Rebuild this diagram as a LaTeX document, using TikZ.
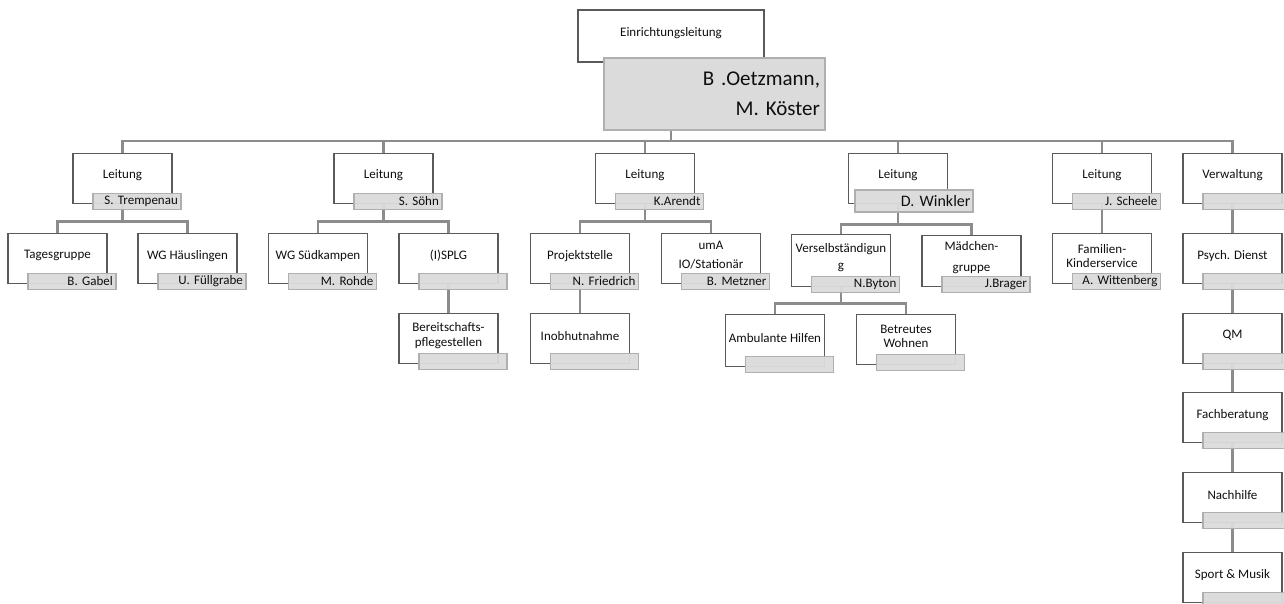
\documentclass[tikz,border=0pt]{standalone}
\usepackage{fontspec}
\setmainfont{Carlito}
\usetikzlibrary{calc,backgrounds}
\definecolor{boxc}{RGB}{90,90,90}
\definecolor{connc}{RGB}{140,140,140}
\definecolor{lfill}{RGB}{219,219,219}
\definecolor{lline}{RGB}{175,175,175}
\definecolor{txtc}{RGB}{15,15,15}
\newcommand\orgbox[6][]{%
  \node[wbox,anchor=north,#1] (#2) at (#3,#4) {};
  \node[wtext] (#2t) at ($(#2.center)+(0,-3)$) {#5};
  \node[lbox] (#2l) at ($(#2.south east)+(9,6)$) {#6};}
\begin{document}
\begin{tikzpicture}[x=0.75pt,y=-0.75pt,
  wbox/.style={draw=boxc,fill=white,line width=0.9pt,minimum width=74.25pt,
    minimum height=37.5pt,inner sep=0pt},
  wtext/.style={inner sep=0pt,align=center,
    font=\fontsize{9.75}{10.5}\selectfont,text=txtc},
  lbox/.style={draw=lline,fill=lfill,fill opacity=0.95,text opacity=1,
    line width=1.1pt,minimum width=66pt,minimum height=12pt,text width=61.5pt,
    inner xsep=2.25pt,inner ysep=0pt,align=right,
    font=\fontsize{9.75}{10.5}\selectfont,text=txtc,anchor=south east},
  conn/.style={draw=connc,line width=2.2pt,line join=miter},
]
\useasboundingbox (0,0) rectangle (1284,603);
\clip (0,0) rectangle (1284,603);

% top
\node[wbox,minimum width=139.5pt,minimum height=39pt] (top) at (671,36) {};
\node[wtext] (toptext) at (671,33) {Einrichtungsleitung};
\node[draw=lline,fill=lfill,text opacity=1,line width=1.1pt,
  minimum width=165.75pt,minimum height=54pt,text width=158.25pt,inner xsep=3.75pt,
  align=right,font=\fontsize{15.75}{22.5}\selectfont,text=txtc]
  (topl) at (714.5,94) {B .Oetzmann,\\M. Köster};

% column 1
\orgbox{L1}{122.5}{153}{Leitung}{S. Trempenau}
\orgbox{T1}{57.5}{233}{Tagesgruppe}{B. Gabel}
\orgbox{T2}{187.5}{233}{WG Häuslingen}{U. Füllgrabe}

% column 2
\orgbox{L2}{383.5}{153}{Leitung}{S. Söhn}
\orgbox{W2}{318}{233}{WG Südkampen}{M. Rohde}
\orgbox{S2}{448.5}{233}{(I)SPLG}{}
\orgbox{B2}{448.5}{313}{Bereitschafts-\\[0.75pt]pflegestellen}{}

% column 3
\orgbox{L3}{645}{153}{Leitung}{K.Arendt}
\orgbox{P3}{580}{233}{Projektstelle}{N. Friedrich}
\orgbox{U3}{711}{233}{umA\\[3.75pt]IO/Stationär}{B. Metzner}
\orgbox{I3}{580}{313}{Inobhutnahme}{}

% column 4
\node[wbox,anchor=north] (L4) at (898,153) {};
\node[wtext] (L4t) at ($(L4.center)+(0,-3)$) {Leitung};
\node[draw=lline,fill=lfill,fill opacity=0.95,text opacity=1,line width=1.1pt,
  minimum width=88.5pt,minimum height=16.5pt,text width=84.75pt,inner xsep=1.875pt,
  inner ysep=0pt,align=right,font=\fontsize{12}{14}\selectfont,text=txtc]
  (L4l) at (914,201) {D. Winkler};
\orgbox[minimum height=39pt]{V4}{841}{234}{Verselbständigun\\[2.25pt]g}{N.Byton}
\orgbox[minimum height=38.25pt]{M4}{971.5}{235}{Mädchen-\\[5.25pt]gruppe}{J.Brager}
\orgbox[minimum height=39pt]{A4}{775}{314}{Ambulante Hilfen}{}
\orgbox[minimum height=37.5pt]{B4}{906}{314}{Betreutes\\Wohnen}{}

% column 5
\orgbox{L5}{1102}{153}{Leitung}{J. Scheele}
\orgbox{F5}{1102}{233}{Familien-\\Kinderservice}{A. Wittenberg}

% column 6
\orgbox{L6}{1232.5}{153}{Verwaltung}{}
\orgbox{V6a}{1232.5}{233}{Psych. Dienst}{}
\orgbox{V6b}{1232.5}{313}{QM}{}
\orgbox{V6c}{1232.5}{392}{Fachberatung}{}
\orgbox{V6d}{1232.5}{472}{Nachhilfe}{}
\orgbox{V6e}{1232.5}{552}{Sport \& Musik}{}

\begin{scope}[on background layer]
\coordinate (bary) at (0,141);
\draw[conn] (top.center) -- (top.center |- bary);
\draw[conn] (L1.center) -- (L1.center |- bary) -- (L6.center |- bary) -- (L6.center);
\foreach \n in {L2,L3,L4,L5} \draw[conn] (\n.center) -- (\n.center |- bary);
% column 1
\coordinate (b1) at ($(L1.center)+(0,43)$);
\draw[conn] (L1.center) -- (b1);
\draw[conn] (T1.center) |- (b1) -| (T2.center);
% column 2
\coordinate (b2) at ($(L2.center)+(0,43)$);
\draw[conn] (L2.center) -- (b2);
\draw[conn] (W2.center) |- (b2) -| (S2.center);
\draw[conn] (S2.center) -- (B2.center);
% column 3
\coordinate (b3) at ($(L3.center)+(0,43)$);
\draw[conn] (L3.center) -- (b3);
\draw[conn] (P3.center) |- (b3) -| (U3.center);
\draw[conn] (P3.center) -- (I3.center);
% column 4
\coordinate (b4) at ($(L4.center)+(0,46)$);
\draw[conn] (L4.center) -- (b4);
\draw[conn] (V4.center) |- (b4) -| (M4.center);
\coordinate (b4s) at ($(V4.center)+(0,43)$);
\draw[conn] (V4.center) -- (b4s);
\draw[conn] (A4.center) |- (b4s) -| (B4.center);
% column 5
\draw[conn] (L5.center) -- (F5.center);
% column 6
\draw[conn] (L6.center) -- (V6a.center) -- (V6b.center) -- (V6c.center) -- (V6d.center) -- (V6e.center);
\end{scope}
\end{tikzpicture}
\end{document}
